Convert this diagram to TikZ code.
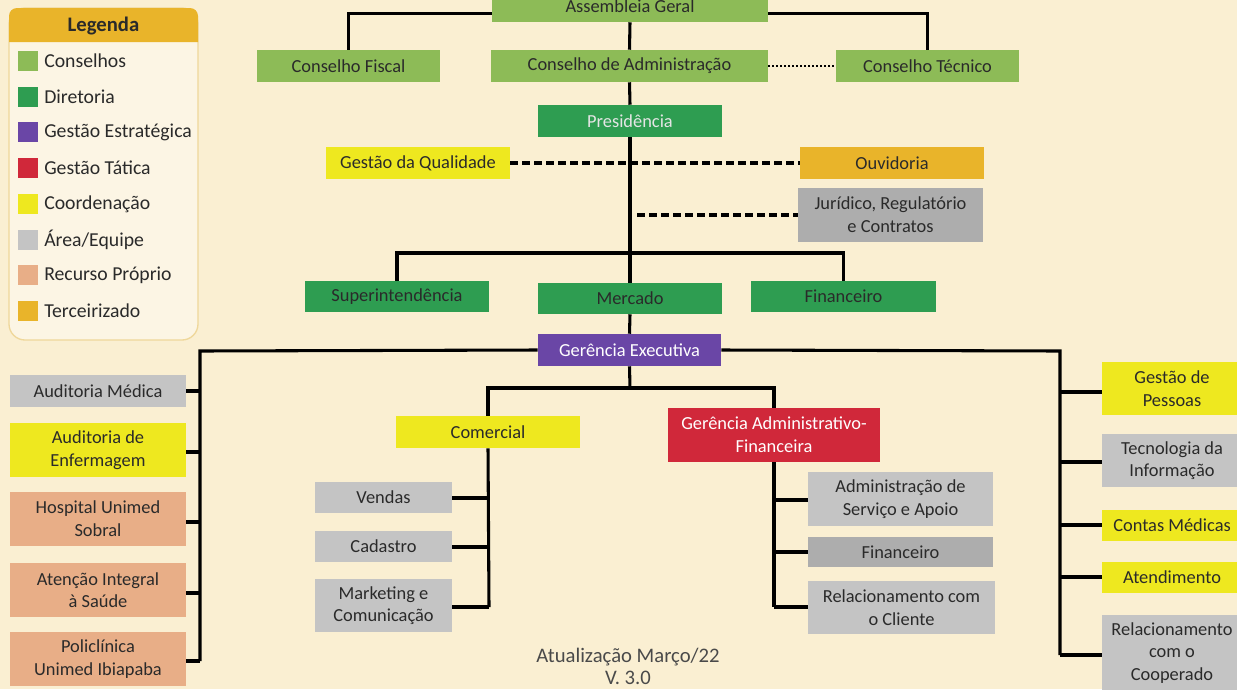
\documentclass[tikz,border=0pt]{standalone}
\usepackage{fontspec}
\setmainfont{Carlito}
\usetikzlibrary{calc}
\definecolor{bgc}{HTML}{FAEFD2}
\definecolor{consc}{HTML}{8DBB57}
\definecolor{dirc}{HTML}{2E9D51}
\definecolor{estc}{HTML}{6A46A6}
\definecolor{tatc}{HTML}{D0283A}
\definecolor{coorc}{HTML}{EEE81F}
\definecolor{areac}{HTML}{C4C4C4}
\definecolor{areadc}{HTML}{ADADAD}
\definecolor{recc}{HTML}{E8AE87}
\definecolor{terc}{HTML}{E9B42A}
\definecolor{txtc}{HTML}{2A2A2A}
\definecolor{legb}{HTML}{EFD79A}
\tikzset{
  bx/.style={rectangle, inner sep=0pt, align=center, text=txtc,
    font=\fontsize{13.8}{17}\selectfont},
  sz/.style 2 args={minimum width=#1*0.75pt, minimum height=#2*0.75pt},
  cons/.style={bx, fill=consc},
  dir/.style={bx, fill=dirc},
  est/.style={bx, fill=estc, text=white},
  tat/.style={bx, fill=tatc, text=white},
  coor/.style={bx, fill=coorc},
  area/.style={bx, fill=areac},
  aread/.style={bx, fill=areadc},
  rec/.style={bx, fill=recc},
  ter/.style={bx, fill=terc},
  ln/.style={line width=2.3pt, black},
  dln/.style={line width=2.3pt, black, dash pattern=on 6pt off 3pt},
  dotln/.style={line width=2pt, black, dash pattern=on 1.5pt off 1.5pt},
  sw/.style={rectangle, inner sep=0pt, minimum size=15pt},
  lt/.style={anchor=west, inner sep=0pt, text=txtc, font=\fontsize{14.8}{17}\selectfont},
}
\begin{document}
\begin{tikzpicture}[x=0.75pt,y=-0.75pt]
\clip (0,0) rectangle (1237,689);
\fill[bgc] (0,0) rectangle (1237,689);
\useasboundingbox (0,0) rectangle (1237,689);

% Legend
\draw[legb, fill=bgc!60!white, line width=1pt, rounded corners=12pt] (9,8) rectangle (198,340);
\fill[terc] (9,42) {[rounded corners=6pt] -- (9,8) -- (198,8)} -- (198,42) -- cycle;
\node[inner sep=0pt, text=txtc, font=\bfseries\fontsize{15.5}{17}\selectfont] (legt) at (103.5,26) {Legenda};
\node[sw, fill=consc] (s1) at (28,61) {};  \node[lt] (l1) at (44,61) {Conselhos};
\node[sw, fill=dirc] (s2) at (28,97) {};   \node[lt] (l2) at (44,97) {Diretoria};
\node[sw, fill=estc] (s3) at (28,132) {};  \node[lt] (l3) at (44,132) {Gestão Estratégica};
\node[sw, fill=tatc] (s4) at (28,168) {};  \node[lt] (l4) at (44,168) {Gestão Tática};
\node[sw, fill=coorc] (s5) at (28,204) {}; \node[lt] (l5) at (44,204) {Coordenação};
\node[sw, fill=areac] (s6) at (28,240) {}; \node[lt] (l6) at (44,240) {Área/Equipe};
\node[sw, fill=recc] (s7) at (28,275) {};  \node[lt] (l7) at (44,275) {Recurso Próprio};
\node[sw, fill=terc] (s8) at (28,311) {};  \node[lt] (l8) at (44,311) {Terceirizado};

% Top levels
\node[cons, sz={276}{32}] (ag) at (630,6) {Assembleia Geral};
\node[cons, sz={183}{32}] (cf) at (348.5,66) {Conselho Fiscal};
\node[cons, sz={277}{32}] (ca) at (629.5,66) {Conselho de Administração};
\node[cons, sz={183}{32}] (ct) at (927.5,66) {Conselho Técnico};
\node[dir, sz={184}{32}, text=white!90!black] (pres) at (630,121) {Presidência};
\node[coor, sz={184}{32}] (gq) at (418,163) {Gestão da Qualidade};
\node[ter, sz={184}{32}] (ouv) at (892,163) {Ouvidoria};
\node[aread, sz={185}{54}] (jur) at (890.5,215) {Jurídico, Regulatório\\e Contratos};
\node[dir, sz={184}{31}] (sup) at (397,296.5) {Superintendência};
\node[dir, sz={184}{31}] (merc) at (630,298.5) {Mercado};
\node[dir, sz={185}{31}] (fin) at (843.5,296.5) {Financeiro};
\node[est, sz={183}{32}] (ge) at (629.5,350) {Gerência Executiva};

% Left column
\node[area, sz={176}{32}] (am) at (98,391) {Auditoria Médica};
\node[coor, sz={176}{54}] (ae) at (98,450) {Auditoria de\\Enfermagem};
\node[rec, sz={176}{54}] (hs) at (98,519) {Hospital Unimed\\Sobral};
\node[rec, sz={176}{54}] (ai) at (98,590) {Atenção Integral\\à Saúde};
\node[rec, sz={176}{54}] (pc) at (98,659) {Policlínica\\Unimed Ibiapaba};

% Right column
\node[coor, sz={140}{53}] (gp) at (1172,388.5) {Gestão de\\Pessoas};
\node[area, sz={140}{53}] (ti) at (1172,460.5) {Tecnologia da\\Informação};
\node[coor, sz={140}{31}] (cm) at (1172,525) {Contas Médicas};
\node[coor, sz={140}{31}] (at) at (1172,577.5) {Atendimento};
\node[area, sz={140}{76}] (rco) at (1172,653) {Relacionamento\\com o\\Cooperado};

% Middle
\node[coor, sz={184}{32}] (com) at (488,432) {Comercial};
\node[tat, sz={212}{54}] (gaf) at (774,435) {Gerência Administrativo-\\Financeira};
\node[area, sz={137}{31}] (ven) at (383.5,497.5) {Vendas};
\node[area, sz={137}{31}] (cad) at (383.5,546.5) {Cadastro};
\node[area, sz={137}{53}] (mk) at (383.5,605.5) {Marketing e\\Comunicação};
\node[area, sz={185}{54}] (asa) at (900.5,499) {Administração de\\Serviço e Apoio};
\node[aread, sz={185}{30}] (fi2) at (900.5,552) {Financeiro};
\node[area, sz={187}{53}] (rcl) at (901.5,607.5) {Relacionamento com\\o Cliente};

% Footer
\node[inner sep=0pt, text=txtc!85!white, font=\fontsize{15.5}{16.5}\selectfont, align=center] (foot) at (628,666) {Atualização Março/22\\V. 3.0};

% Connectors
\draw[ln] ([yshift=-5.5pt]ag.west) -| (cf.north);
\draw[ln] ([yshift=-5.5pt]ag.east) -| (ct.north);
\draw[ln] (ag.south) -- (ca.north);
\draw[dotln] (ca.east) -- (ct.west);
\draw[ln] (ca.south) -- (pres.north);
\draw[dln] (gq.east) -- (ouv.west);
\coordinate (jd) at (637,215);
\draw[dln] (jd) -- (jur.west);
\draw[ln] (pres.south) -- (merc.north);
\coordinate (b1) at (630,253);
\draw[ln] (sup.north) -- (sup.north |- b1) -- (fin.north |- b1) -- (fin.north);
\draw[ln] (merc.south) -- (ge.north);

\coordinate (ltp) at (200,351);
\coordinate (lbt) at (200,661);
\draw[ln] (ge.west) -- (ltp) -- (lbt);
\foreach \n/\yy in {am/391, ae/452, hs/522, ai/593, pc/661}{
  \draw[ln] (\n.east |- 0,\yy) -- (ltp |- 0,\yy);
}
\coordinate (rtp) at (1060,351);
\coordinate (rbt) at (1060,655);
\draw[ln] (ge.east) -- (rtp) -- (rbt);
\foreach \n/\yy in {gp/392, ti/462, cm/525, at/577, rco/655}{
  \draw[ln] (\n.west |- 0,\yy) -- (rtp |- 0,\yy);
}

\coordinate (m2) at (630,388);
\draw[ln] (ge.south) -- (m2);
\draw[ln] (com.north) -- (com.north |- m2) -- (gaf.north |- m2) -- (gaf.north);
\coordinate (cb) at (489,607);
\draw[ln] (com.south) -- (cb);
\foreach \n/\yy in {ven/498, cad/547, mk/607}{
  \draw[ln] (\n.east |- 0,\yy) -- (cb |- 0,\yy);
}
\coordinate (gb) at (774,607);
\draw[ln] (gaf.south) -- (gb);
\foreach \n/\yy in {asa/500, fi2/552, rcl/607}{
  \draw[ln] (\n.west |- 0,\yy) -- (gb |- 0,\yy);
}
\end{tikzpicture}
\end{document}
